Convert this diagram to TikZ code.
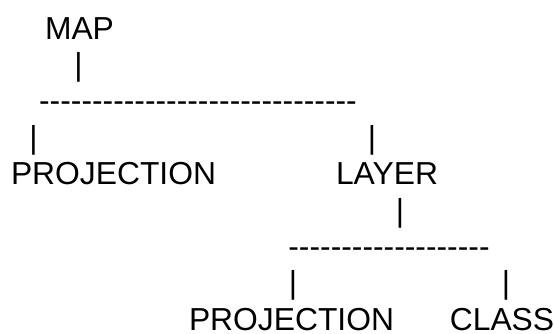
\documentclass[tikz,border=0pt]{standalone}
\usepackage{fontspec}
\newfontfamily\arialfont{Liberation Sans}
\begin{document}
\begin{tikzpicture}[x=1pt,y=-1pt,
  txt/.style={anchor=base,inner sep=0pt,outer sep=0pt,font=\arialfont\fontsize{31.8}{36}\selectfont,text=black}]
\useasboundingbox (0,0) rectangle (554,333);
\fill[white] (0,0) rectangle (554,333);
\node[txt] (map) at (79.5,39) {MAP};
\node[txt] (bar1) at (78.5,75.4) {|};
\node[txt] (dash1) at (198,111.8) {------------------------------};
\node[txt] (barL) at (33.5,148.2) {|};
\node[txt] (barR) at (372,148.2) {|};
\node[txt] (proj1) at (113.5,184.6) {PROJECTION};
\node[txt] (layer) at (387,184.6) {LAYER};
\node[txt] (bar2) at (400,221) {|};
\node[txt] (dash2) at (389,257.4) {-------------------};
\node[txt] (barL2) at (293,293.8) {|};
\node[txt] (barR2) at (506,293.8) {|};
\node[txt] (proj2) at (291.5,330.2) {PROJECTION};
\node[txt] (class) at (502,330.2) {CLASS};
\end{tikzpicture}
\end{document}
